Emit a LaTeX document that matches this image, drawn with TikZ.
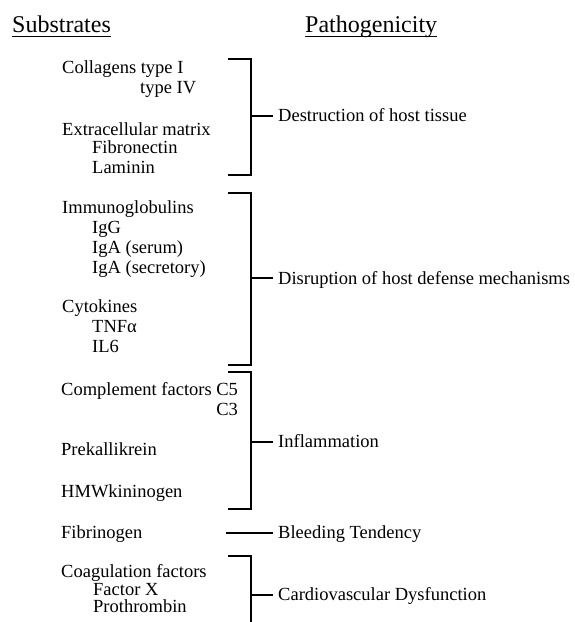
\documentclass[tikz,border=0pt]{standalone}
\usepackage{fontspec}
\setmainfont{Liberation Serif}
\begin{document}
\begin{tikzpicture}[x=1pt,y=-1pt,
  txt/.style={inner sep=0pt,anchor=base west,font=\fontsize{18.5}{20}\selectfont},
  head/.style={inner sep=0pt,anchor=base west,font=\fontsize{24}{26}\selectfont},
  brk/.style={line width=1.8pt,line join=miter},
  uline/.style={line width=1.2pt}]
\useasboundingbox (0,0) rectangle (574,622);
% headers
\node[head] (sub) at (12,32) {Substrates};
\node[head] (pat) at (305,32) {Pathogenicity};
\draw[uline] ([yshift=-4.5pt]sub.base west) -- ([yshift=-4.5pt]sub.base east);
\draw[uline] ([yshift=-4.5pt]pat.base west) -- ([yshift=-4.5pt]pat.base east);
% left column
\node[txt] (col) at (62,73.5) {Collagens type I};
\node[txt] (col4) at (140,93.5) {type IV};
\node[txt] (ecm) at (62,135.5) {Extracellular matrix};
\node[txt] (fib) at (92,153.5) {Fibronectin};
\node[txt] (lam) at (92,173.5) {Laminin};
\node[txt] (ig) at (62,213.5) {Immunoglobulins};
\node[txt] (igg) at (92,233.5) {IgG};
\node[txt] (igas) at (92,253.5) {IgA (serum)};
\node[txt] (igasec) at (92,273.5) {IgA (secretory)};
\node[txt] (cyt) at (62,312.5) {Cytokines};
\node[txt] (tnf) at (92,332.5) {TNFα};
\node[txt] (il6) at (92,352.5) {IL6};
\node[txt] (comp) at (61,395.5) {Complement factors C5};
\node[txt,anchor=base east] (c3) at (comp.base east |- 0,415.5) {C3};
\node[txt] (pre) at (61,455.5) {Prekallikrein};
\node[txt] (hmw) at (61,497.5) {HMWkininogen};
\node[txt] (fbg) at (61,538.5) {Fibrinogen};
\node[txt] (coag) at (61,577.5) {Coagulation factors};
\node[txt] (fx) at (93,595.5) {Factor X};
\node[txt] (pro) at (93,612.5) {Prothrombin};
% right column
\node[txt] (des) at (278,121.5) {Destruction of host tissue};
\node[txt] (dis) at (278,284) {Disruption of host defense mechanisms};
\node[txt] (inf) at (278,447.5) {Inflammation};
\node[txt] (ble) at (278,538.5) {Bleeding Tendency};
\node[txt] (car) at (278,600.5) {Cardiovascular Dysfunction};
% brackets
\coordinate (b1t) at (251,59);  \coordinate (b1b) at (251,175); \coordinate (b1m) at (251,116);
\coordinate (b2t) at (251,193); \coordinate (b2b) at (251,365); \coordinate (b2m) at (251,278);
\coordinate (b3t) at (251,372); \coordinate (b3b) at (251,509); \coordinate (b3m) at (251,442);
\coordinate (b4t) at (251,556); \coordinate (b4b) at (251,624); \coordinate (b4m) at (251,595);
\coordinate (bl) at (226,533);
\draw[brk] ([xshift=-23pt]b1t) -- (b1t) -- (b1b) -- ([xshift=-23pt]b1b);
\draw[brk] ([xshift=-23pt]b2t) -- (b2t) -- (b2b) -- ([xshift=-23pt]b2b);
\draw[brk] ([xshift=-23pt]b3t) -- (b3t) -- (b3b) -- ([xshift=-23pt]b3b);
\draw[brk] ([xshift=-23pt]b4t) -- (b4t) -- (b4b);
\draw[brk] (b1m) -- ([xshift=-5pt]des.west |- b1m);
\draw[brk] (b2m) -- ([xshift=-5pt]dis.west |- b2m);
\draw[brk] (b3m) -- ([xshift=-5pt]inf.west |- b3m);
\draw[brk] (b4m) -- ([xshift=-5pt]car.west |- b4m);
\draw[brk] (bl) -- ([xshift=-5pt]ble.west |- bl);
\end{tikzpicture}
\end{document}
